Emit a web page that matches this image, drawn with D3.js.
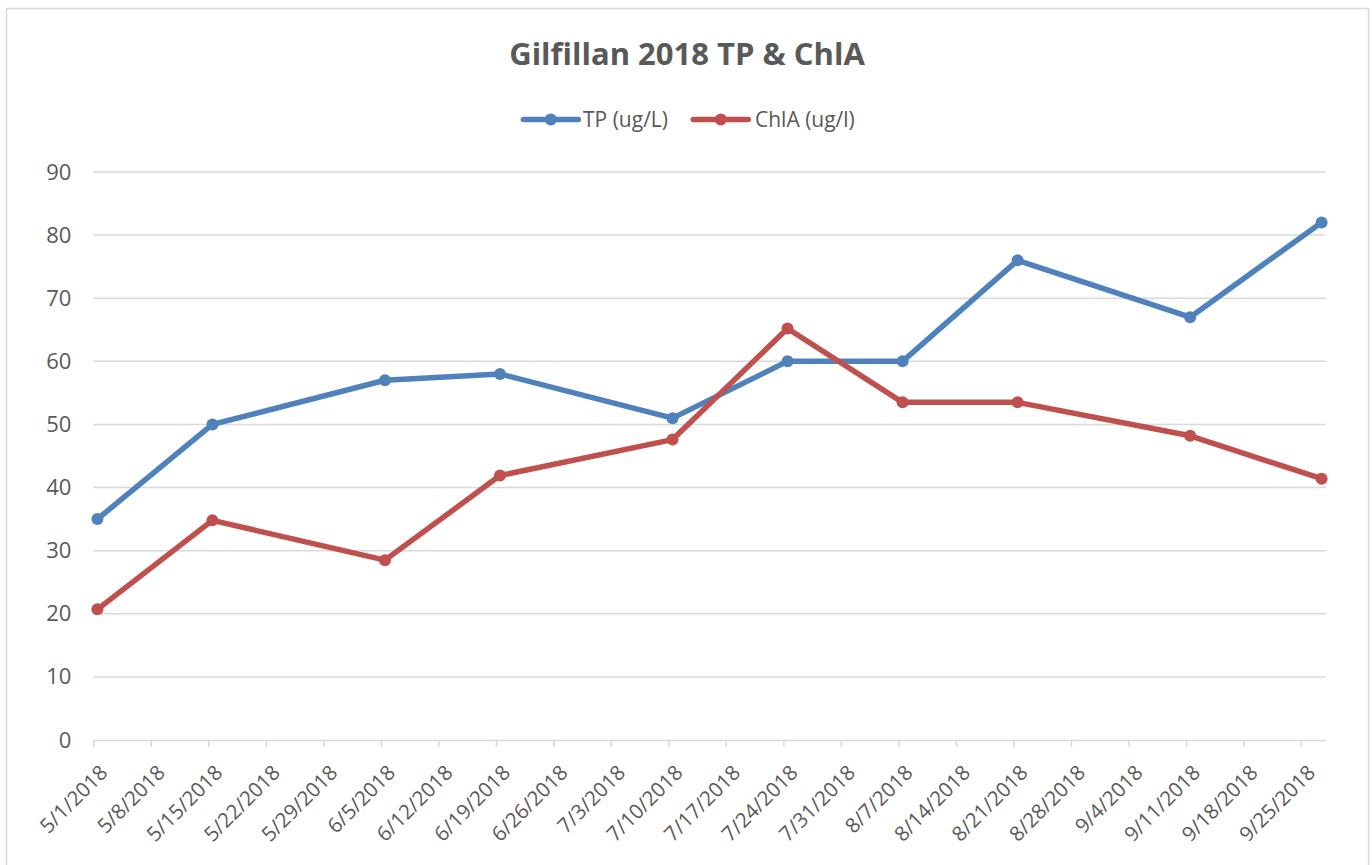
<!DOCTYPE html>
<html>
<head>
<meta charset="utf-8">
<script src="https://cdn.jsdelivr.net/npm/d3@7"></script>
<style>
  html, body { margin: 0; padding: 0; background: #fff; }
  svg { display: block; }
</style>
</head>
<body>
<svg id="chart" width="1372" height="865"></svg>
<script>
// ---- data ----
const sampleDates = ["2018-05-01","2018-05-15","2018-06-05","2018-06-19","2018-07-10","2018-07-24","2018-08-07","2018-08-21","2018-09-11","2018-09-27"];
const tpValues   = [35, 50, 57, 58, 51, 60, 60, 76, 67, 82];
const chlaValues = [20.7, 34.8, 28.5, 41.9, 47.6, 65.2, 53.5, 53.5, 48.2, 41.4];
const seriesNames = ["TP (ug/L)", "ChlA (ug/l)"];
const yTicks = [0, 10, 20, 30, 40, 50, 60, 70, 80, 90];
const axisStart = "2018-05-01";
const axisEnd = "2018-09-28";
const titleText = "Gilfillan 2018 TP & ChlA";

// ---- setup ----
const parse = d3.utcParse("%Y-%m-%d");
const fmt = d => (d.getUTCMonth() + 1) + "/" + d.getUTCDate() + "/" + d.getUTCFullYear();
const colors = ["#4f81bd", "#c0504d"];
const font = "'Open Sans', 'Noto Sans', sans-serif";
const textColor = "#595959";
const gridColor = "#d9d9d9";

const svg = d3.select("#chart");
const plotLeft = 93.3, plotRight = 1325.7, plotTop = 172, plotBottom = 740;

svg.append("rect").attr("x", 6.5).attr("y", 8.5).attr("width", 1362).attr("height", 870)
  .attr("fill", "#fff").attr("stroke", gridColor).attr("stroke-width", 1.5);

const x = d3.scaleUtc().domain([parse(axisStart), parse(axisEnd)]).range([plotLeft, plotRight]);
const y = d3.scaleLinear().domain([0, 90]).range([plotBottom, plotTop]);

// gridlines
svg.append("g").selectAll("line").data(yTicks.filter(v => v > 0)).join("line")
  .attr("x1", plotLeft).attr("x2", plotRight)
  .attr("y1", d => y(d)).attr("y2", d => y(d))
  .attr("stroke", gridColor).attr("stroke-width", 1.5);

// y axis labels
const yAxis = d3.axisLeft(y).tickValues(yTicks).tickSize(0).tickPadding(22);
const gy = svg.append("g").attr("transform", `translate(${plotLeft},0)`).call(yAxis);
gy.select(".domain").remove();
gy.selectAll("text").attr("font-family", font).attr("font-size", 22).attr("fill", textColor);

// x axis
const weekTicks = d3.utcDays(parse(axisStart), parse(axisEnd), 7);
const xAxis = d3.axisBottom(x).tickValues(weekTicks).tickSize(7).tickFormat(fmt).tickSizeOuter(0);
const gx = svg.append("g").attr("transform", `translate(0,${plotBottom})`).call(xAxis);
gx.select(".domain").attr("stroke", gridColor).attr("stroke-width", 1.5);
gx.selectAll(".tick line").attr("stroke", gridColor).attr("stroke-width", 1.5);
gx.selectAll("text")
  .attr("font-family", font).attr("font-size", 20.5).attr("fill", textColor)
  .attr("text-anchor", "end")
  .attr("dy", 0)
  .attr("transform", "translate(8,27) rotate(-45)");

// series
const half = 12 * 3600 * 1000;
const series = [tpValues, chlaValues].map((vals, i) => ({
  name: seriesNames[i], color: colors[i],
  pts: sampleDates.map((d, j) => ({ date: new Date(parse(d).getTime() + half), v: vals[j] }))
}));

const line = d3.line().x(d => x(d.date)).y(d => y(d.v));
series.forEach(s => {
  svg.append("path").datum(s.pts).attr("d", line)
    .attr("fill", "none").attr("stroke", s.color).attr("stroke-width", 5.5)
    .attr("stroke-linejoin", "round").attr("stroke-linecap", "round");
  svg.append("g").selectAll("circle").data(s.pts).join("circle")
    .attr("cx", d => x(d.date)).attr("cy", d => y(d.v)).attr("r", 6)
    .attr("fill", s.color);
});

// title
svg.append("text").attr("x", 687).attr("y", 65).attr("text-anchor", "middle")
  .attr("font-family", font).attr("font-weight", "bold").attr("font-size", 31)
  .attr("fill", textColor).text(titleText);

// legend
const legendItems = [{ x0: 523.3, tx: 583 }, { x0: 693.3, tx: 755 }];
series.forEach((s, i) => {
  const g = svg.append("g");
  const lx = legendItems[i].x0, ly = 119.5;
  g.append("line").attr("x1", lx).attr("x2", lx + 55).attr("y1", ly).attr("y2", ly)
    .attr("stroke", s.color).attr("stroke-width", 5.5).attr("stroke-linecap", "round");
  g.append("circle").attr("cx", lx + 27.5).attr("cy", ly).attr("r", 6).attr("fill", s.color);
  g.append("text").attr("x", legendItems[i].tx).attr("y", 126.5)
    .attr("font-family", font).attr("font-size", 21).attr("fill", textColor).text(s.name);
});
</script>
</body>
</html>
